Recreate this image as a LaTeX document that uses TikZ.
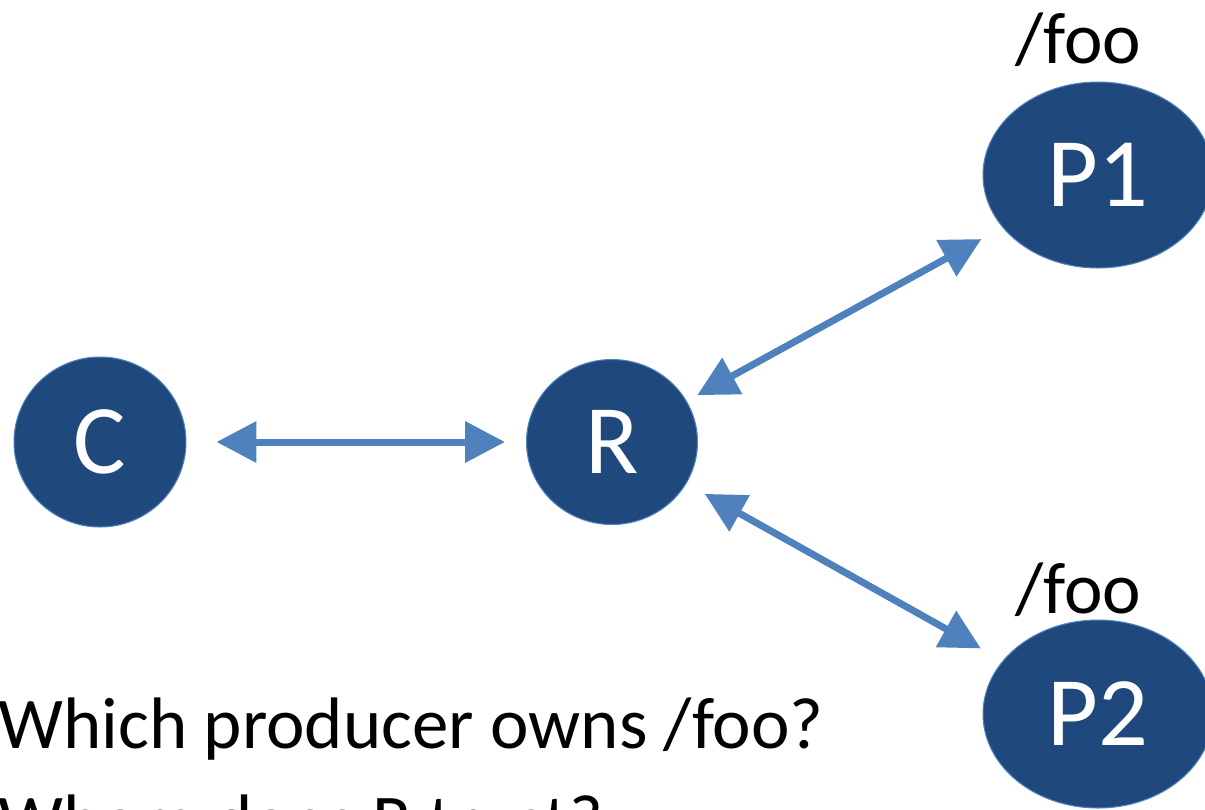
\documentclass[tikz,border=0pt]{standalone}
\usepackage{fontspec}
\setmainfont{Carlito}
\usetikzlibrary{arrows.meta,shapes.geometric}
\definecolor{hostblue}{RGB}{31,73,125}
\definecolor{linkblue}{RGB}{79,129,189}
\tikzset{
	host/.style={ellipse, fill=hostblue, draw=linkblue, line width=0.6pt, inner sep=0pt,
		text=white, font=\fontsize{56}{60}\selectfont},
	link/.style={<->, draw=linkblue, line width=0.14cm}
}
\begin{document}
\begin{tikzpicture}[x=0.02cm, y=-0.02cm, >={Triangle[length=0.8cm,width=0.8cm]}, line join=round, font=\fontsize{41.5}{50}\selectfont]
				\useasboundingbox (0,0) rectangle (1205,809);
				\clip (0,0) rectangle (1205,809);
				\foreach \n/\x/\y/\w/\h in {C/100/442/3.44/3.4,R/612/442/3.42/3.3,P1/1098/175/4.6/3.72,P2/1098/714/4.6/3.76}{
					\node [host, minimum width=\w cm, minimum height=\h cm] (\n) at (\x,\y) {\n};
				}
				\foreach \a/\b/\s/\t in {C/R/0.6/0.42,R/P1/0.24/0.48,R/P2/0.42/0.5}{
					\draw [link, shorten <=\s cm, shorten >=\t cm] (\a)--(\b);
				}
				\node (foo1) at (1078,40) {/foo};
				\node (foo2) at (1078,590) {/foo};
				\node [anchor=base west, inner sep=0pt] (q1) at (-2,748) {Which producer owns /foo?};
				\node [anchor=base west, inner sep=0pt] (q2) at (-2,845) {Whom does R trust?};
			\end{tikzpicture}
\end{document}
